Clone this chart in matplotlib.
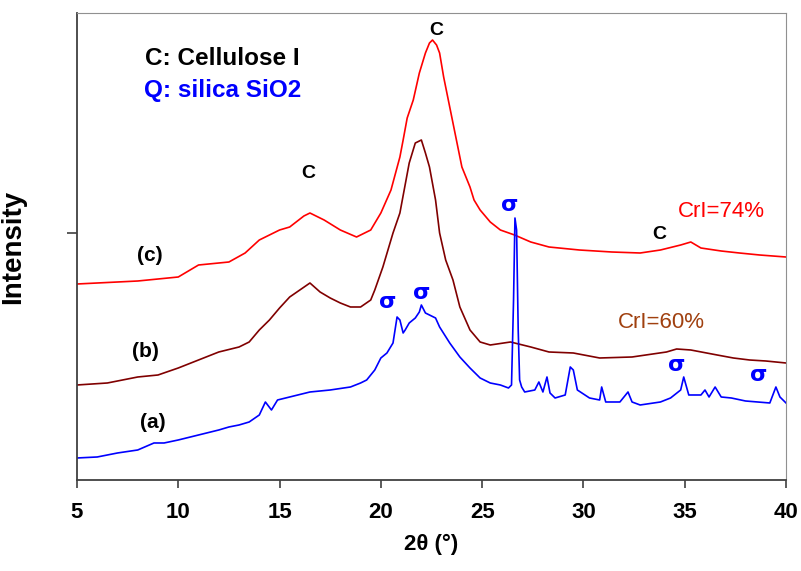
import numpy as np
import matplotlib
matplotlib.use("Agg")
import matplotlib.pyplot as plt

plt.rcParams["font.family"] = ["Liberation Sans", "DejaVu Sans"]

# XRD patterns (2theta in degrees, intensity in arbitrary units, offset per curve)
x_c = [5, 6, 7, 8, 9, 10, 11, 12, 12.5, 13.3, 14, 15, 15.5, 16.2, 16.5, 17.2, 18, 18.8,
       19.5, 20, 20.5, 20.94, 21.1, 21.3, 21.6, 21.9, 22.2, 22.4, 22.55, 22.75, 22.9, 23.1,
       23.4, 23.8, 24.0, 24.4, 24.6, 24.9, 25.4, 25.9, 26.6, 27.4, 28.3, 29.8, 31.4, 32.8,
       33.8, 34.8, 35.3, 35.8, 36.8, 37.7, 38.7, 40]
y_c = [196, 197, 198, 199, 201, 203, 215, 217, 218, 227, 240, 250, 253, 264, 267, 260, 250, 243,
       250, 267, 290, 323, 340, 362, 380, 407, 427, 437, 440, 435, 427, 403,
       373, 333, 313, 293, 280, 270, 258, 250, 245, 238, 233, 230, 228, 227,
       230, 235, 238, 232, 229, 227, 225, 223]

x_b = [5, 6.5, 8, 9, 10, 11, 12, 13, 13.5, 14, 14.5, 15, 15.5, 16, 16.5, 17, 17.5, 18, 18.5,
       19, 19.5, 19.7, 20.1, 20.6, 20.94, 21.4, 21.7, 22.0, 22.2, 22.4, 22.7, 22.9, 23.2,
       23.56, 23.9, 24.4, 24.9, 25.4, 26.4, 27.4, 28.3, 29.5, 30.8, 32.4, 34.1, 34.6, 35.3,
       36.6, 37.4, 38.2, 39.0, 40]
y_b = [95, 97, 103, 105, 112, 120, 128, 133, 138, 150, 160, 172, 183, 190, 197, 188, 182, 177, 173,
       173, 180, 190, 213, 247, 267, 317, 337, 340, 327, 313, 280, 247, 220,
       200, 173, 150, 138, 135, 138, 133, 128, 127, 122, 123, 128, 131, 130,
       125, 122, 120, 119, 117]

x_a = [5, 6, 7, 8, 8.8, 9.3, 10, 11, 12, 12.5, 13, 13.5, 14, 14.3, 14.6, 14.9, 15.5, 16.5,
       17.5, 18.5, 19, 19.3, 19.7, 20.0, 20.3, 20.6, 20.8, 20.94, 21.1, 21.2, 21.4, 21.7,
       21.9, 22.0, 22.2, 22.7, 22.9, 23.4, 23.9, 24.4, 24.9, 25.4, 25.9, 26.3, 26.45, 26.55,
       26.62, 26.7, 26.78, 26.85, 26.95, 27.1, 27.6, 27.8, 28.0, 28.2, 28.35, 28.6, 29.1,
       29.35, 29.5, 29.7, 30.3, 30.8, 30.9, 31.1, 31.8, 32.2, 32.4, 32.8, 33.8, 34.3, 34.8,
       34.95, 35.2, 35.8, 36.0, 36.2, 36.5, 36.8, 37.3, 38.0, 39.2, 39.5, 39.7, 40]
y_a = [22, 23, 27, 30, 37, 37, 40, 45, 50, 53, 55, 58, 65, 78, 70, 80, 83, 88,
       90, 93, 97, 100, 110, 122, 127, 137, 163, 160, 147, 150, 157, 162,
       168, 175, 167, 162, 153, 137, 123, 112, 102, 97, 95, 92, 95, 180,
       262, 250, 150, 100, 93, 88, 90, 98, 88, 103, 87, 82, 85,
       113, 110, 90, 82, 80, 93, 78, 78, 88, 78, 75, 78, 82, 90,
       103, 85, 85, 90, 83, 93, 83, 82, 79, 77, 93, 83, 77]

# quartz (Q) reflections marked on curve (a)
q_x = [20.35, 22.03, 26.37, 34.62, 38.66]
q_y = [178, 187, 275, 115, 105]

# cellulose (C) reflections marked on curve (c)
c_x = [16.4, 22.72, 33.73]
c_y = [307, 450, 246]

fig = plt.figure(figsize=(8.01, 5.71), dpi=100)
ax = fig.add_axes([0.0961, 0.1594, 0.8852, 0.8178])

ax.plot(x_c, y_c, color="#FF0000", lw=1.2)
ax.plot(x_b, y_b, color="#800000", lw=1.2)
ax.plot(x_a, y_a, color="#0000FF", lw=1.2)

for xx, yy in zip(q_x, q_y):
    ax.text(xx, yy, "σ", color="#0000FF", fontsize=16, fontweight="bold",
            ha="center", va="center", family=["DejaVu Sans"])
for xx, yy in zip(c_x, c_y):
    ax.text(xx, yy, "C", color="black", fontsize=14, fontweight="bold",
            ha="center", va="center")

ax.text(8.36, 422, "C: Cellulose I", color="black", fontsize=17.5, fontweight="bold",
        ha="left", va="center")
ax.text(8.31, 390, "Q: silica SiO2", color="#0000FF", fontsize=17.5, fontweight="bold",
        ha="left", va="center")
ax.text(8.6, 224, "(c)", fontsize=15, fontweight="bold", ha="center", va="center")
ax.text(8.4, 128, "(b)", fontsize=15, fontweight="bold", ha="center", va="center")
ax.text(8.75, 57, "(a)", fontsize=15, fontweight="bold", ha="center", va="center")
ax.text(34.66, 269, "CrI=74%", color="#FF0000", fontsize=16, ha="left", va="center")
ax.text(31.7, 157, "CrI=60%", color="#A0400F", fontsize=16, ha="left", va="center")

ax.set_xlim(5, 40)
ax.set_ylim(0, 467)
ax.set_xticks([5, 10, 15, 20, 25, 30, 35, 40])
ax.set_yticks([247])
ax.set_yticklabels([])
ax.tick_params(axis="x", direction="out", length=6, width=1.2, color="#404040",
               labelsize=16, pad=10)
ax.tick_params(axis="y", direction="out", length=7, width=1.2, color="#404040")
for lab in ax.get_xticklabels():
    lab.set_fontweight("bold")

ax.spines["left"].set_color("#404040")
ax.spines["bottom"].set_color("#404040")
ax.spines["left"].set_linewidth(1.3)
ax.spines["bottom"].set_linewidth(1.3)
ax.spines["top"].set_color("#909090")
ax.spines["right"].set_color("#909090")

ax.set_xlabel("2θ (°)", fontsize=16, fontweight="bold", labelpad=8)
ax.set_ylabel("Intensity", fontsize=20, fontweight="bold", labelpad=26)

fig.savefig("out.png", dpi=100)
